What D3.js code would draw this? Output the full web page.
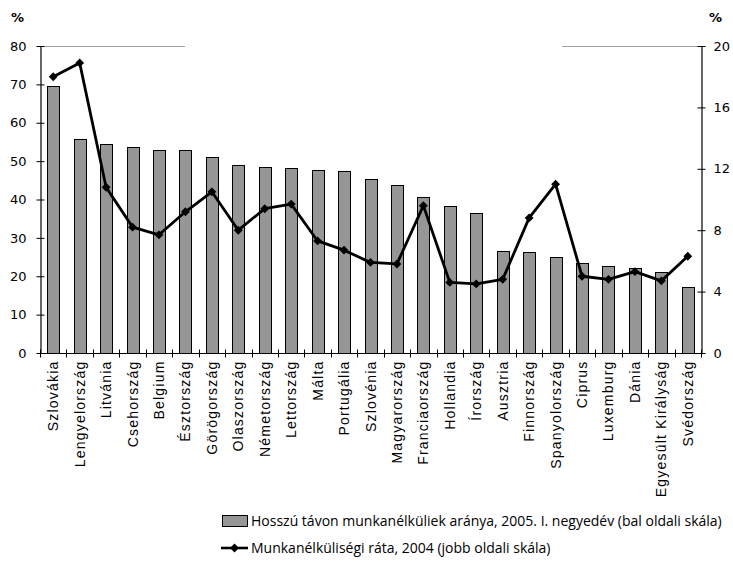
<!DOCTYPE html>
<html>
<head>
<meta charset="utf-8">
<script src="https://cdn.jsdelivr.net/npm/d3@7"></script>
<style>
  body { margin: 0; background: #fff; }
  svg { display: block; }
</style>
</head>
<body>
<svg id="chart" width="733" height="570"></svg>
<script>
// Countries of the EU-25, sorted by long-term unemployment share
const countries = [
  "Szlovákia", "Lengyelország", "Litvánia", "Csehország", "Belgium",
  "Észtország", "Görögország", "Olaszország", "Németország", "Lettország",
  "Málta", "Portugália", "Szlovénia", "Magyarország", "Franciaország",
  "Hollandia", "Írország", "Ausztria", "Finnország", "Spanyolország",
  "Ciprus", "Luxemburg", "Dánia", "Egyesült Királyság", "Svédország"
];

// Share of long-term unemployed, 2005 Q1 (%, left scale)
const longTermShare = [
  69.6, 55.7, 54.4, 53.6, 52.9,
  52.9, 51.2, 49.0, 48.5, 48.2,
  47.7, 47.3, 45.4, 43.8, 40.6,
  38.2, 36.6, 26.6, 26.3, 25.0,
  23.4, 22.7, 22.1, 21.1, 17.2
];

// Unemployment rate, 2004 (%, right scale)
const unemploymentRate = [
  18.0, 18.9, 10.8, 8.2, 7.7,
  9.2, 10.5, 8.0, 9.4, 9.7,
  7.3, 6.7, 5.9, 5.8, 9.6,
  4.6, 4.5, 4.8, 8.8, 11.0,
  5.0, 4.8, 5.3, 4.7, 6.3
];

const leftTicks = [0, 10, 20, 30, 40, 50, 60, 70, 80];
const rightTicks = [0, 4, 8, 12, 16, 20];

const legendLabels = [
  "Hosszú távon munkanélküliek aránya, 2005. I. negyedév (bal oldali skála)",
  "Munkanélküliségi ráta, 2004 (jobb oldali skála)"
];

const svg = d3.select("#chart");
const plot = { left: 40, right: 701, top: 46, bottom: 353 };
const tickFont = "'DejaVu Sans', Verdana, sans-serif";
const catFont = "'Liberation Sans', Arial, sans-serif";

const x = d3.scaleBand().domain(countries).range([plot.left, plot.right]).paddingInner(0).paddingOuter(0);
const yL = d3.scaleLinear().domain([0, 80]).range([plot.bottom, plot.top]);
const yR = d3.scaleLinear().domain([0, 20]).range([plot.bottom, plot.top]);

// Top frame segments (gray)
svg.append("line").attr("x1", plot.left).attr("x2", 185).attr("y1", plot.top + 0.5).attr("y2", plot.top + 0.5)
  .attr("stroke", "#a0a0a0").attr("stroke-width", 1);
svg.append("line").attr("x1", 562).attr("x2", plot.right).attr("y1", plot.top + 0.5).attr("y2", plot.top + 0.5)
  .attr("stroke", "#a0a0a0").attr("stroke-width", 1);

// Bars
const barW = 12;
svg.append("g").selectAll("rect").data(countries).join("rect")
  .attr("x", d => Math.round(x(d) + x.bandwidth() / 2 - barW / 2) + 0.5)
  .attr("y", (d, i) => Math.round(yL(longTermShare[i])) + 0.5)
  .attr("width", barW)
  .attr("height", (d, i) => Math.round(plot.bottom) - Math.round(yL(longTermShare[i])))
  .attr("fill", "#969696")
  .attr("stroke", "#000")
  .attr("stroke-width", 1);

// Left axis with crossing ticks
const leftAxis = svg.append("g")
  .attr("transform", `translate(${plot.left + 0.5},0)`)
  .call(d3.axisLeft(yL).tickValues(leftTicks).tickSize(4).tickPadding(10).tickSizeOuter(0));
leftAxis.select(".domain").attr("stroke", "#000").attr("stroke-width", 1.2);
leftAxis.selectAll(".tick line").attr("x1", 4).attr("x2", -4).attr("stroke", "#000");
leftAxis.selectAll(".tick text").attr("font-family", tickFont).attr("font-size", 13).attr("fill", "#000");

// Right axis with crossing ticks
const rightAxis = svg.append("g")
  .attr("transform", `translate(${plot.right + 0.5},0)`)
  .call(d3.axisRight(yR).tickValues(rightTicks).tickSize(4).tickPadding(8).tickSizeOuter(0));
rightAxis.select(".domain").attr("stroke", "#000").attr("stroke-width", 1.2);
rightAxis.selectAll(".tick line").attr("x1", -4).attr("x2", 4).attr("stroke", "#000");
rightAxis.selectAll(".tick text").attr("font-family", tickFont).attr("font-size", 13).attr("fill", "#000");

// Category axis: ticks on band boundaries
const bottomAxis = svg.append("g").attr("transform", `translate(0,${plot.bottom + 0.5})`);
bottomAxis.append("line").attr("x1", plot.left).attr("x2", plot.right + 1).attr("stroke", "#000").attr("stroke-width", 1.2);
const bounds = countries.map(d => x(d)).concat([plot.right]);
bottomAxis.selectAll("line.tk").data(bounds).join("line").attr("class", "tk")
  .attr("x1", d => Math.round(d) + 0.5).attr("x2", d => Math.round(d) + 0.5)
  .attr("y1", -4).attr("y2", 4).attr("stroke", "#000");
bottomAxis.selectAll("text").data(countries).join("text")
  .attr("transform", d => `translate(${x(d) + x.bandwidth() / 2 + 5},7) rotate(-90)`)
  .attr("text-anchor", "end")
  .attr("font-family", catFont).attr("font-size", 14).attr("letter-spacing", 1.2)
  .attr("fill", "#000")
  .text(d => d);

// Unit labels
svg.append("text").attr("x", 11).attr("y", 22).attr("font-family", tickFont).attr("font-size", 13).attr("font-weight", "bold").text("%");
svg.append("text").attr("x", 709).attr("y", 22).attr("font-family", tickFont).attr("font-size", 13).attr("font-weight", "bold").text("%");

// Unemployment rate line
const linePts = countries.map((d, i) => [x(d) + x.bandwidth() / 2, yR(unemploymentRate[i])]);
svg.append("path")
  .attr("d", d3.line()(linePts))
  .attr("fill", "none").attr("stroke", "#000").attr("stroke-width", 2.8).attr("stroke-linejoin", "round");
const diamond = d3.symbol().type(d3.symbolDiamond2).size(50);
svg.append("g").selectAll("path").data(linePts).join("path")
  .attr("transform", d => `translate(${d[0]},${d[1]})`)
  .attr("d", diamond).attr("fill", "#000");

// Legend
const legendFont = "'Open Sans', 'Noto Sans', sans-serif";
const lg = svg.append("g");
lg.append("rect").attr("x", 222.5).attr("y", 515.5).attr("width", 25).attr("height", 11)
  .attr("fill", "#969696").attr("stroke", "#000").attr("stroke-width", 1);
const lt1 = lg.append("text").attr("x", 251).attr("y", 526).attr("font-family", legendFont).attr("font-size", 14)
  .attr("fill", "#000").text(legendLabels[0]);
lg.append("line").attr("x1", 221).attr("x2", 248).attr("y1", 548).attr("y2", 548).attr("stroke", "#000").attr("stroke-width", 2.6);
lg.append("path").attr("transform", "translate(234.5,548)").attr("d", diamond).attr("fill", "#000");
const lt2 = lg.append("text").attr("x", 251).attr("y", 553).attr("font-family", legendFont).attr("font-size", 14)
  .attr("fill", "#000").text(legendLabels[1]);

// Keep the longer legend entry inside the right edge
const avail = 733 - 251 - 3;
const w1 = lt1.node().getComputedTextLength();
if (w1 > avail) {
  const fs = 14 * avail / w1;
  lt1.attr("font-size", fs);
  lt2.attr("font-size", fs);
}
</script>
</body>
</html>
